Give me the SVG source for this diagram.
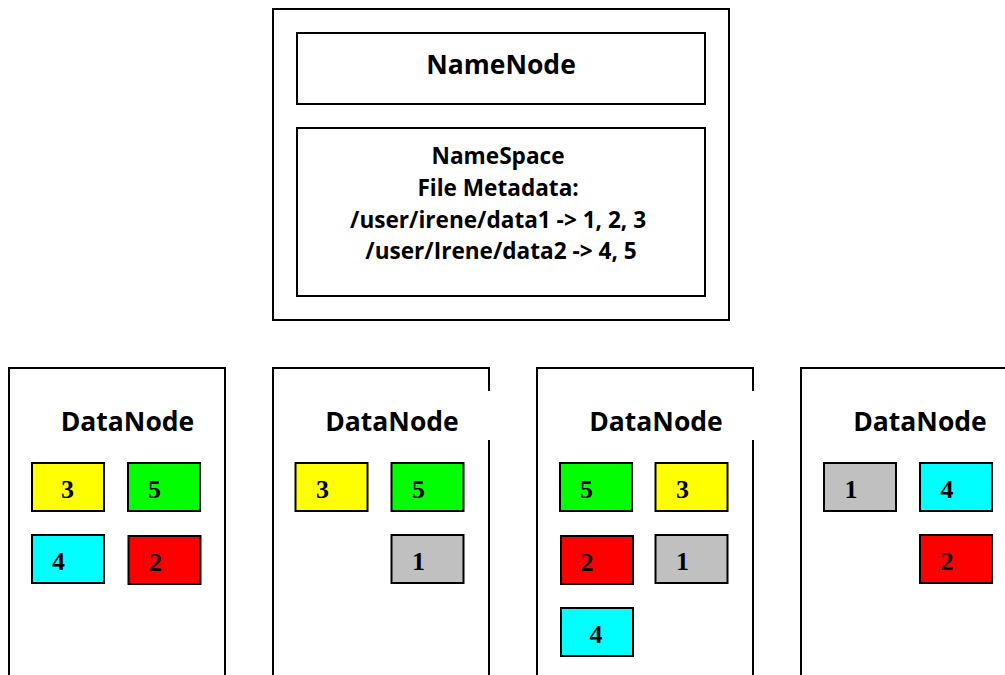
<svg xmlns="http://www.w3.org/2000/svg" width="1005" height="675" viewBox="0 0 1005 675">
  <style>
    .frame { fill: #ffffff; stroke: #000000; stroke-width: 2; }
    .blk { stroke: #000000; stroke-width: 2; }
    .hdr { font-family: "Open Sans", "Liberation Sans", sans-serif; font-weight: bold; fill: #000000; text-anchor: middle; }
    .dn { font-size: 26.5px; }
    .num { font-family: "Liberation Serif", "Times New Roman", serif; font-weight: bold; font-size: 26px; fill: #000000; text-anchor: middle; }
    .yellow { fill: #ffff00; }
    .green { fill: #00ff00; }
    .cyan { fill: #00ffff; }
    .red { fill: #ff0000; }
    .gray { fill: #c0c0c0; }
  </style>
  <rect width="1005" height="675" fill="#ffffff"/>

  <!-- NameNode with its namespace table -->
  <g id="namenode">
    <rect class="frame" x="273" y="9" width="456" height="311"/>
    <rect class="frame" x="297" y="33" width="408" height="71"/>
    <text class="hdr" x="501" y="74" font-size="26.5">NameNode</text>
    <rect class="frame" x="297" y="128" width="408" height="168"/>
    <text class="hdr" font-size="22.6">
      <tspan x="501" y="164">NameSpace</tspan>
      <tspan x="501" y="195.5">File Metadata:</tspan>
      <tspan x="501" y="227.5">/user/irene/data1 -&gt; 1, 2, 3</tspan>
      <tspan x="501" y="259">/user/Irene/data2 -&gt; 4, 5</tspan>
    </text>
  </g>

  <!-- DataNode 1 -->
  <g id="datanode1">
    <rect class="frame" x="9" y="368" width="216" height="320"/>
    <text class="hdr dn" x="127.5" y="431">DataNode</text>
    <rect class="blk yellow" x="32" y="463" width="72" height="48"/>
    <text class="num" x="67.5" y="498">3</text>
    <rect class="blk green" x="128" y="463" width="72" height="48"/>
    <text class="num" x="154.5" y="498">5</text>
    <rect class="blk cyan" x="32" y="535" width="72" height="48"/>
    <text class="num" x="58.5" y="570">4</text>
    <rect class="blk red" x="128.5" y="536" width="72" height="48"/>
    <text class="num" x="155.5" y="571">2</text>
  </g>

  <!-- DataNode 2 -->
  <g id="datanode2">
    <rect class="frame" x="273" y="368" width="216" height="320"/>
    <rect x="487" y="391" width="4" height="49" fill="#ffffff"/>
    <text class="hdr dn" x="392" y="431">DataNode</text>
    <rect class="blk yellow" x="295.5" y="463" width="72" height="48"/>
    <text class="num" x="322.5" y="498">3</text>
    <rect class="blk green" x="391.5" y="463" width="72" height="48"/>
    <text class="num" x="418.5" y="498">5</text>
    <rect class="blk gray" x="391.5" y="535" width="72" height="48"/>
    <text class="num" x="418.5" y="570">1</text>
  </g>

  <!-- DataNode 3 -->
  <g id="datanode3">
    <rect class="frame" x="537" y="368" width="216" height="320"/>
    <rect x="751" y="391" width="4" height="49" fill="#ffffff"/>
    <text class="hdr dn" x="656" y="431">DataNode</text>
    <rect class="blk green" x="560" y="463" width="72" height="48"/>
    <text class="num" x="586.5" y="498">5</text>
    <rect class="blk yellow" x="655.5" y="463" width="72" height="48"/>
    <text class="num" x="682.5" y="498">3</text>
    <rect class="blk red" x="561" y="536" width="72" height="48"/>
    <text class="num" x="587" y="571">2</text>
    <rect class="blk gray" x="655.5" y="535" width="72" height="48"/>
    <text class="num" x="682.5" y="570">1</text>
    <rect class="blk cyan" x="561" y="608" width="72" height="48"/>
    <text class="num" x="596" y="643">4</text>
  </g>

  <!-- DataNode 4 -->
  <g id="datanode4">
    <rect class="frame" x="801" y="368" width="216" height="320"/>
    <text class="hdr dn" x="920" y="431">DataNode</text>
    <rect class="blk gray" x="824" y="463" width="72" height="48"/>
    <text class="num" x="851" y="498">1</text>
    <rect class="blk cyan" x="920" y="463" width="72" height="48"/>
    <text class="num" x="947" y="498">4</text>
    <rect class="blk red" x="920" y="535" width="72" height="48"/>
    <text class="num" x="947" y="570">2</text>
  </g>

  <!-- no connectors are drawn between the nodes -->
  <g id="connectors"/>
</svg>
